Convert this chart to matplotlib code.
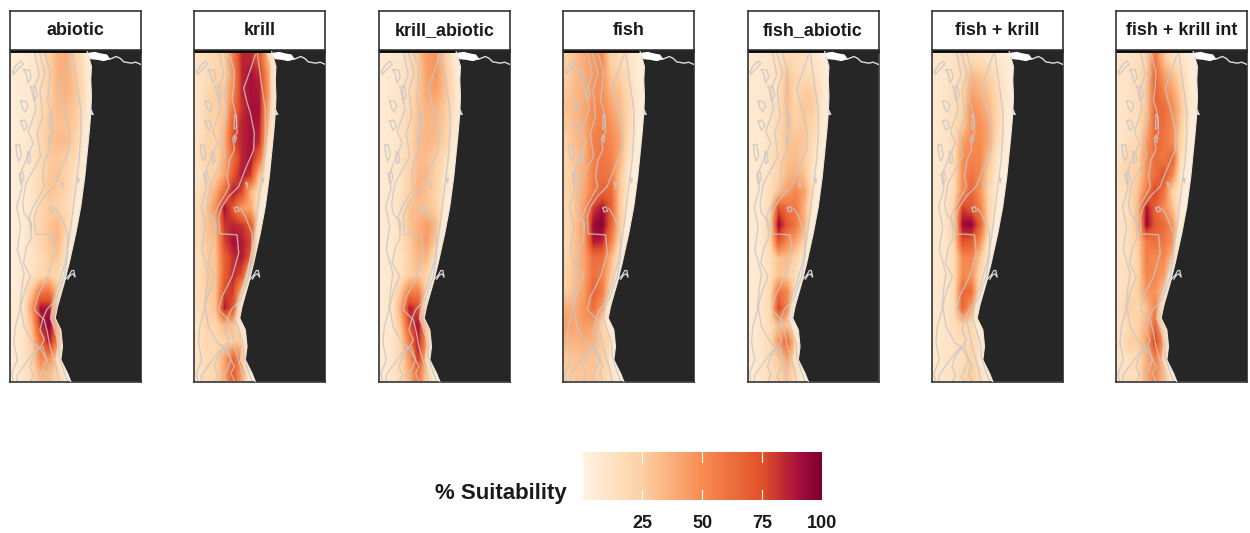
import matplotlib
matplotlib.use('Agg')
import matplotlib.pyplot as plt
import numpy as np
from matplotlib.colors import LinearSegmentedColormap
from matplotlib.cm import ScalarMappable
from matplotlib.colors import Normalize

plt.rcParams['font.family'] = ['Liberation Sans', 'DejaVu Sans']

names = ['abiotic', 'krill', 'krill_abiotic', 'fish', 'fish_abiotic', 'fish + krill', 'fish + krill int']
lefts = [10, 194.5, 379, 563, 747.5, 932, 1116]

# suitability, rows north to south, columns west to east
abiotic = [
    [5, 6, 8, 14, 24, 36, 38, 24, 12, 5],
    [5, 6, 8, 14, 24, 36, 38, 28, 14, 6],
    [5, 6, 9, 15, 24, 34, 36, 30, 16, 6],
    [5, 6, 9, 16, 26, 32, 32, 28, 15, 6],
    [5, 6, 10, 18, 28, 30, 30, 26, 12, 5],
    [5, 7, 10, 18, 28, 32, 32, 24, 10, 5],
    [5, 7, 10, 18, 26, 28, 24, 16, 8, 0],
    [5, 7, 10, 18, 28, 30, 22, 12, 6, 0],
    [5, 6, 10, 20, 28, 26, 20, 10, 5, 0],
    [5, 6, 10, 20, 26, 24, 18, 8, 0, 0],
    [5, 6, 12, 22, 28, 34, 22, 8, 0, 0],
    [5, 6, 12, 20, 28, 34, 18, 6, 0, 0],
    [5, 7, 10, 16, 26, 28, 10, 0, 0, 0],
    [5, 8, 12, 18, 24, 18, 8, 0, 0, 0],
    [5, 10, 28, 58, 60, 30, 10, 0, 0, 0],
    [6, 10, 45, 90, 88, 45, 8, 0, 0, 0],
    [6, 10, 32, 85, 95, 62, 10, 0, 0, 0],
    [6, 10, 25, 62, 90, 52, 10, 0, 0, 0],
    [6, 10, 20, 52, 50, 25, 8, 0, 0, 0],
    [6, 10, 18, 34, 32, 20, 8, 0, 0, 0],
]
krill = [
    [12, 15, 20, 22, 55, 85, 85, 72, 35, 10],
    [12, 15, 22, 24, 48, 85, 90, 85, 45, 10],
    [10, 18, 25, 28, 52, 85, 90, 88, 48, 10],
    [12, 20, 25, 28, 60, 82, 90, 90, 40, 10],
    [12, 20, 22, 32, 72, 85, 90, 88, 35, 10],
    [12, 22, 22, 36, 75, 85, 90, 85, 25, 0],
    [12, 22, 20, 38, 62, 85, 90, 65, 12, 0],
    [12, 20, 25, 42, 72, 88, 82, 30, 10, 0],
    [15, 24, 38, 65, 88, 78, 35, 18, 8, 0],
    [18, 28, 50, 90, 72, 45, 40, 12, 0, 0],
    [18, 30, 38, 82, 85, 82, 72, 15, 0, 0],
    [18, 28, 32, 78, 90, 88, 78, 12, 0, 0],
    [15, 25, 30, 68, 82, 88, 72, 8, 0, 0],
    [15, 28, 30, 68, 85, 75, 28, 5, 0, 0],
    [15, 25, 30, 78, 80, 35, 8, 0, 0, 0],
    [15, 22, 30, 88, 72, 15, 5, 0, 0, 0],
    [12, 22, 20, 35, 30, 18, 8, 0, 0, 0],
    [12, 20, 18, 22, 25, 30, 10, 0, 0, 0],
    [12, 18, 20, 40, 68, 45, 8, 0, 0, 0],
    [12, 18, 20, 40, 72, 40, 8, 0, 0, 0],
]
krill_abiotic = [
    [6, 8, 10, 15, 28, 44, 46, 28, 12, 5],
    [6, 8, 10, 15, 26, 42, 46, 32, 14, 6],
    [6, 8, 11, 16, 28, 40, 42, 32, 16, 6],
    [6, 8, 12, 18, 30, 36, 36, 28, 15, 6],
    [6, 8, 12, 20, 30, 34, 34, 26, 12, 5],
    [6, 8, 12, 20, 32, 34, 32, 24, 10, 5],
    [6, 8, 12, 20, 32, 32, 26, 16, 8, 0],
    [6, 8, 12, 22, 34, 34, 24, 12, 6, 0],
    [6, 8, 12, 24, 36, 30, 22, 10, 5, 0],
    [6, 8, 14, 30, 32, 30, 24, 8, 0, 0],
    [6, 8, 14, 30, 36, 44, 34, 8, 0, 0],
    [6, 8, 14, 26, 38, 44, 28, 6, 0, 0],
    [6, 8, 12, 24, 34, 34, 12, 0, 0, 0],
    [6, 8, 14, 24, 30, 20, 8, 0, 0, 0],
    [6, 10, 28, 55, 55, 22, 8, 0, 0, 0],
    [6, 10, 40, 88, 75, 25, 6, 0, 0, 0],
    [6, 10, 30, 75, 90, 45, 8, 0, 0, 0],
    [6, 10, 22, 58, 88, 45, 10, 0, 0, 0],
    [6, 10, 20, 45, 82, 32, 8, 0, 0, 0],
    [6, 10, 18, 38, 62, 24, 8, 0, 0, 0],
]
fish = [
    [25, 32, 38, 45, 50, 22, 18, 12, 6, 5],
    [25, 32, 38, 45, 48, 28, 24, 15, 6, 5],
    [28, 34, 38, 48, 48, 35, 30, 18, 8, 5],
    [30, 34, 40, 50, 52, 42, 34, 20, 8, 5],
    [28, 34, 40, 52, 55, 48, 38, 20, 6, 5],
    [25, 32, 38, 55, 58, 52, 42, 18, 6, 0],
    [22, 30, 38, 55, 60, 55, 38, 12, 5, 0],
    [22, 30, 38, 55, 62, 58, 30, 8, 0, 0],
    [22, 30, 40, 58, 68, 65, 30, 8, 0, 0],
    [20, 30, 45, 80, 90, 72, 28, 5, 0, 0],
    [20, 30, 48, 92, 98, 68, 28, 0, 0, 0],
    [20, 32, 45, 88, 85, 55, 20, 0, 0, 0],
    [22, 32, 42, 62, 62, 35, 8, 0, 0, 0],
    [24, 32, 42, 62, 55, 28, 5, 0, 0, 0],
    [26, 34, 45, 68, 58, 18, 5, 0, 0, 0],
    [38, 40, 48, 62, 42, 10, 0, 0, 0, 0],
    [42, 40, 45, 42, 22, 10, 8, 0, 0, 0],
    [35, 35, 38, 35, 25, 18, 8, 0, 0, 0],
    [28, 30, 30, 30, 25, 15, 6, 0, 0, 0],
    [25, 28, 28, 28, 22, 12, 6, 0, 0, 0],
]
fish_abiotic = [
    [6, 8, 10, 14, 18, 16, 14, 10, 6, 5],
    [6, 8, 10, 14, 32, 18, 18, 14, 8, 5],
    [6, 8, 10, 14, 34, 20, 26, 24, 10, 5],
    [6, 8, 12, 16, 32, 22, 28, 26, 10, 5],
    [6, 8, 12, 18, 30, 24, 28, 20, 8, 5],
    [6, 8, 12, 20, 30, 30, 28, 16, 6, 0],
    [6, 8, 12, 20, 30, 32, 26, 12, 5, 0],
    [6, 8, 12, 22, 34, 38, 30, 10, 0, 0],
    [6, 8, 14, 30, 44, 52, 42, 10, 0, 0],
    [6, 8, 18, 76, 62, 58, 35, 8, 0, 0],
    [6, 8, 22, 94, 72, 58, 36, 5, 0, 0],
    [6, 8, 18, 72, 50, 40, 22, 0, 0, 0],
    [6, 8, 14, 30, 32, 22, 8, 0, 0, 0],
    [6, 8, 14, 30, 28, 14, 5, 0, 0, 0],
    [6, 10, 18, 60, 52, 14, 5, 0, 0, 0],
    [6, 10, 18, 78, 52, 10, 0, 0, 0, 0],
    [6, 10, 16, 32, 30, 10, 6, 0, 0, 0],
    [6, 10, 16, 46, 65, 24, 8, 0, 0, 0],
    [6, 10, 16, 28, 42, 20, 8, 0, 0, 0],
    [6, 10, 14, 22, 30, 15, 6, 0, 0, 0],
]
fish_krill = [
    [8, 10, 12, 18, 16, 14, 12, 8, 5, 5],
    [8, 10, 12, 18, 34, 30, 24, 14, 6, 5],
    [8, 10, 14, 20, 42, 36, 30, 18, 8, 5],
    [8, 10, 14, 22, 48, 44, 34, 20, 8, 5],
    [8, 10, 16, 26, 48, 48, 40, 20, 6, 5],
    [8, 10, 16, 42, 50, 50, 40, 15, 6, 0],
    [8, 10, 16, 48, 54, 52, 32, 10, 5, 0],
    [8, 10, 16, 48, 60, 52, 24, 8, 0, 0],
    [8, 10, 18, 50, 68, 48, 22, 5, 0, 0],
    [8, 10, 22, 80, 72, 58, 22, 5, 0, 0],
    [8, 10, 24, 92, 96, 70, 22, 0, 0, 0],
    [8, 10, 20, 74, 70, 50, 12, 0, 0, 0],
    [8, 10, 16, 50, 54, 28, 5, 0, 0, 0],
    [8, 10, 16, 50, 48, 20, 5, 0, 0, 0],
    [8, 10, 16, 66, 64, 14, 0, 0, 0, 0],
    [8, 10, 16, 66, 42, 8, 0, 0, 0, 0],
    [8, 10, 14, 22, 20, 8, 6, 0, 0, 0],
    [8, 10, 12, 16, 18, 14, 8, 0, 0, 0],
    [8, 10, 12, 15, 24, 15, 6, 0, 0, 0],
    [8, 10, 12, 18, 26, 14, 6, 0, 0, 0],
]
fish_krill_int = [
    [10, 12, 14, 22, 58, 30, 14, 10, 5, 5],
    [10, 12, 15, 28, 66, 44, 32, 18, 6, 5],
    [10, 12, 16, 26, 68, 54, 42, 24, 8, 5],
    [10, 12, 16, 30, 66, 64, 50, 28, 8, 5],
    [10, 12, 16, 34, 66, 62, 52, 25, 6, 5],
    [10, 14, 18, 44, 66, 60, 50, 20, 6, 0],
    [12, 22, 22, 48, 62, 58, 68, 15, 5, 0],
    [16, 22, 24, 48, 62, 76, 52, 8, 0, 0],
    [12, 18, 30, 56, 80, 60, 22, 8, 0, 0],
    [12, 15, 34, 90, 68, 52, 32, 5, 0, 0],
    [12, 15, 32, 94, 72, 64, 48, 5, 0, 0],
    [12, 15, 25, 56, 62, 58, 48, 0, 0, 0],
    [12, 15, 22, 56, 50, 52, 32, 0, 0, 0],
    [12, 15, 22, 52, 52, 44, 10, 0, 0, 0],
    [12, 18, 24, 46, 48, 30, 5, 0, 0, 0],
    [14, 24, 20, 30, 54, 25, 5, 0, 0, 0],
    [12, 18, 22, 38, 64, 32, 8, 0, 0, 0],
    [14, 24, 25, 42, 82, 42, 10, 0, 0, 0],
    [10, 14, 18, 36, 54, 36, 8, 0, 0, 0],
    [14, 14, 16, 40, 52, 32, 8, 0, 0, 0],
]
grids = [abiotic, krill, krill_abiotic, fish, fish_abiotic, fish_krill, fish_krill_int]

# map outline and depth contours, in map units
coast_x = [261, 268, 275, 273, 275, 273, 268, 261, 255, 243, 228, 208, 193, 173, 166, 183, 188, 183, 203, 213]
coast_y = [152, 175, 200, 240, 290, 340, 400, 470, 530, 620, 700, 790, 850, 920, 955, 990, 1040, 1080, 1120, 1145]
river_x = [330, 350, 362, 372, 395, 408, 424]
river_y = [178, 170, 176, 186, 190, 187, 194]
river_fill_x = [258, 285, 300, 322, 332, 312, 292, 272]
river_fill_y = [160, 156, 160, 164, 178, 184, 180, 178]
islet_x = [271, 276, 283, 276, 270]
islet_y = [322, 330, 345, 346, 340]
spur_x = [195, 208, 216, 222, 226, 219, 212, 204]
spur_y = [840, 826, 812, 812, 832, 822, 826, 838]
contours = [
    ([218, 231, 243, 243, 238, 228, 218, 208, 195, 178, 160, 153, 163, 176, 178, 192, 203],
     [152, 250, 330, 400, 480, 560, 640, 720, 790, 850, 900, 955, 990, 1030, 1070, 1115, 1145]),
    ([213, 198, 178, 186, 198, 210, 208, 178, 163, 133, 113, 103, 106, 158, 163, 143, 113, 103, 133, 143, 150, 168, 178],
     [165, 210, 265, 300, 340, 400, 450, 520, 560, 590, 620, 650, 702, 705, 760, 830, 890, 930, 960, 1000, 1040, 1100, 1145]),
    ([168, 183, 203, 203, 193, 168, 140, 128, 120, 133, 120, 135, 150, 140, 150],
     [625, 650, 700, 770, 830, 900, 930, 960, 990, 1020, 1045, 1070, 1100, 1120, 1145]),
    ([135, 150, 148, 143, 155, 158, 145, 150, 135, 128, 134, 118, 100, 88, 92],
     [160, 215, 260, 300, 345, 400, 415, 450, 480, 530, 560, 590, 620, 650, 690]),
    ([118, 135, 120, 128, 112, 122, 100, 78, 68, 72, 95, 92, 80, 70, 92, 75, 62, 72, 100, 118, 95, 70, 52, 50],
     [155, 220, 270, 350, 400, 470, 510, 550, 610, 640, 670, 720, 740, 790, 830, 870, 920, 980, 1030, 1040, 1065, 1100, 1125, 1145]),
    ([105, 118, 100, 108, 85, 100, 82, 62, 66, 50, 62, 52, 72, 65, 60, 46, 42, 52, 36, 40],
     [160, 225, 270, 330, 395, 430, 470, 520, 565, 620, 680, 750, 820, 870, 930, 980, 1030, 1080, 1120, 1145]),
    ([118, 100, 90, 100, 92],
     [1045, 1070, 1100, 1125, 1145]),
    ([128, 140, 128, 118, 128],
     [1040, 1080, 1110, 1130, 1145]),
    ([38, 48, 62, 70, 52, 40, 38], [215, 197, 184, 192, 210, 224, 215]),
    ([72, 88, 94, 84, 80, 72], [210, 210, 232, 250, 226, 210]),
    ([62, 76, 84, 76, 68, 62], [304, 304, 318, 336, 326, 304]),
    ([62, 74, 82, 72, 62], [364, 360, 380, 392, 364]),
    ([92, 106, 112, 102, 98, 92], [260, 260, 288, 302, 282, 260]),
    ([48, 58, 64, 56, 50, 48], [436, 434, 468, 484, 462, 436]),
    ([82, 90, 92, 84, 82], [456, 460, 486, 492, 456]),
    ([58, 68, 72, 62, 58], [522, 515, 538, 552, 522]),
    ([150, 156, 157, 149, 150], [345, 350, 382, 388, 345]),
    ([150, 156, 152, 150], [408, 412, 428, 408]),
    ([184, 190, 188, 184], [548, 550, 566, 548]),
    ([232, 238, 236, 232], [534, 537, 549, 534]),
    ([150, 160, 164, 153, 150], [624, 620, 634, 636, 624]),
]

# legend
bar_ticks = [25, 50, 75, 100]
bar_colors = ['#fff3e2', '#fdcfa2', '#f78c52', '#e2512a', '#a8103a', '#7d0030']
bar_stops = [0, 0.25, 0.5, 0.75, 0.9, 1]

cmap = LinearSegmentedColormap.from_list('suit', list(zip(bar_stops, bar_colors)))
W = 1250
H = 533
fig = plt.figure(figsize=(W / 100, H / 100), dpi=100, facecolor='white')


def px_axes(x0, y0, x1, y1):
    return fig.add_axes([x0 / W, 1 - y1 / H, (x1 - x0) / W, (y1 - y0) / H])


for name, left, grid in zip(names, lefts, grids):
    ax = px_axes(left, 50.5, left + 131, 381.5)
    ax.imshow(grid, cmap=cmap, vmin=0, vmax=100, interpolation='bilinear',
              extent=(30, 290, 1152, 152), aspect='auto', zorder=1)
    ax.set_xlim(30, 424)
    ax.set_ylim(1145, 152)
    # pale strip along the shore
    ax.fill_betweenx(coast_y, np.array(coast_x) - 18, coast_x, color='#fdeedb', alpha=0.55, lw=0, zorder=1.5)
    for cx, cy in contours:
        ax.plot(cx, cy, color='#c9c6c4', lw=1.0, alpha=0.8, zorder=2)
    land_x = coast_x + [424, 424]
    land_y = coast_y + [1145, 152]
    ax.fill(land_x, land_y, color='#262626', lw=0, zorder=3)
    ax.plot(river_x, river_y, color='#dcdcdc', lw=1.0, zorder=4)
    ax.fill(river_fill_x, river_fill_y, color='white', lw=0, zorder=4)
    ax.fill(islet_x, islet_y, color='#d5d5d5', lw=0, zorder=4)
    ax.plot(spur_x, spur_y, color='#d5d5d5', lw=0.9, zorder=4)
    ax.plot(coast_x, coast_y, color='#efe6d8', lw=0.8, zorder=4)
    ax.set_xticks([])
    ax.set_yticks([])
    for s in ax.spines.values():
        s.set_color('#333333')
        s.set_linewidth(1.2)
    ax.spines['top'].set_color('black')
    ax.spines['top'].set_linewidth(2.0)
    ax.spines['top'].set_capstyle('butt')

    st = px_axes(left, 11, left + 131, 49.5)
    st.set_xticks([])
    st.set_yticks([])
    st.set_facecolor('white')
    for s in st.spines.values():
        s.set_color('#333333')
        s.set_linewidth(1.2)
    st.text(0.5, 0.5, name, transform=st.transAxes, ha='center', va='center',
            fontsize=12.9, fontweight='bold', color='#1a1a1a')

cax = px_axes(582.7, 452, 821.7, 500)
cb = fig.colorbar(ScalarMappable(Normalize(0, 100), cmap), cax=cax, orientation='horizontal')
cb.outline.set_visible(False)
cb.set_ticks(bar_ticks)
cb.ax.tick_params(length=0, pad=11)
for lab in cb.ax.get_xticklabels():
    lab.set_fontsize(13)
    lab.set_fontweight('bold')
    lab.set_color('#1a1a1a')
for t in bar_ticks[:-1]:
    cax.plot([t, t], [0, 0.2], color='white', lw=0.8)
    cax.plot([t, t], [0.8, 1], color='white', lw=0.8)
cax.set_xlim(0, 100)
cax.set_ylim(0, 1)

fig.text(567 / W, 1 - 493 / H, '% Suitability', ha='right', va='center',
         fontsize=16, fontweight='bold', color='#1a1a1a')

fig.savefig('out.png', dpi=100)
